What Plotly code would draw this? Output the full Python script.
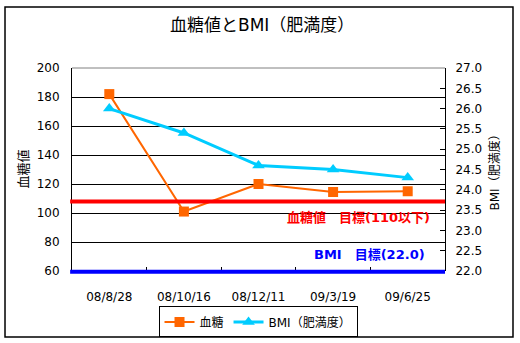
import plotly.graph_objects as go

dates = ["08/8/28", "08/10/16", "08/12/11", "09/3/19", "09/6/25"]
glucose = [182, 101, 120, 114.5, 115]
bmi = [26.0, 25.4, 24.6, 24.5, 24.3]
glucose_target = 108
bmi_target = 22.0
bmi_range = [22, 27]

FONT = "DejaVu Sans, Noto Sans CJK JP"
CJK = "Noto Sans CJK JP"

fig = go.Figure()
fig.add_trace(go.Scatter(
    x=dates, y=glucose, name="血糖", mode="lines+markers",
    line=dict(color="#FF6600", width=2),
    marker=dict(symbol="square", size=10, color="#FF6600"),
    yaxis="y"))
fig.add_trace(go.Scatter(
    x=dates, y=bmi, name="BMI（肥満度）", mode="lines+markers",
    line=dict(color="#00CCFF", width=3),
    marker=dict(symbol="triangle-up", size=11, color="#00CCFF"),
    yaxis="y2"))

fig.update_layout(
    width=520, height=343,
    margin=dict(l=72, r=75, t=68, b=72, autoexpand=False),
    paper_bgcolor="white", plot_bgcolor="white",
    font=dict(family=FONT, size=12, color="black"),
    showlegend=True,
    legend=dict(orientation="h", x=0.4987, y=-0.251, xanchor="center", yanchor="middle",
                bordercolor="black", borderwidth=1, font=dict(size=12, family=FONT),
                tracegroupgap=0, itemwidth=30),
    xaxis=dict(type="category", range=[-0.5, 4.5], showgrid=False, zeroline=False,
               tickson="boundaries", ticks="inside", ticklen=4, tickcolor="black",
               showline=False, tickfont=dict(size=12), ticklabelstandoff=17),
    yaxis=dict(range=[60, 200], dtick=20, showgrid=True, gridcolor="black", gridwidth=1,
               zeroline=False, showline=True, linecolor="black", linewidth=1,
               ticks="", tickfont=dict(size=12), ticklabelstandoff=9),
    yaxis2=dict(range=bmi_range, dtick=0.5, overlaying="y", side="right", tickformat=".1f",
                showgrid=False, zeroline=False, showline=True, linecolor="black", linewidth=1,
                ticks="inside", ticklen=5, tickcolor="black", tickfont=dict(size=12),
                ticklabelstandoff=7),
)

# BMI target expressed in paper units (so the line is not clipped at the axis floor)
bmi_target_paper = (bmi_target - bmi_range[0]) / (bmi_range[1] - bmi_range[0]) - 0.004

shapes = [
    dict(type="rect", xref="paper", yref="paper", x0=-0.1796, x1=1.1823, y0=-0.325, y1=1.3005,
         line=dict(color="black", width=1.5), layer="below"),
    dict(type="line", xref="paper", yref="paper", x0=0, x1=1, y0=1, y1=1,
         line=dict(color="#808080", width=1)),
    dict(type="line", xref="paper", yref="y", x0=-0.005, x1=1, y0=glucose_target, y1=glucose_target,
         line=dict(color="#FF0000", width=4)),
    dict(type="line", xref="paper", yref="paper", x0=-0.005, x1=1,
         y0=bmi_target_paper, y1=bmi_target_paper,
         line=dict(color="#0000FF", width=4)),
]
fig.update_layout(shapes=shapes)

annotations = [
    dict(text="血糖値とBMI（肥満度）", xref="paper", yref="paper", x=0.509, y=1.212,
         showarrow=False, font=dict(size=17, family=FONT, color="black"),
         xanchor="center", yanchor="middle"),
    dict(text="血糖値", xref="paper", yref="paper", x=-0.134, y=0.5, textangle=-90,
         showarrow=False, font=dict(size=13, family=CJK), xanchor="center", yanchor="middle"),
    dict(text="BMI（肥満度）", xref="paper", yref="paper", x=1.134, y=0.5, textangle=-90,
         showarrow=False, font=dict(size=12, family=FONT), xanchor="center", yanchor="middle"),
    dict(text="<b>血糖値　目標(110以下)</b>", xref="paper", yref="paper", x=0.965, y=0.266,
         showarrow=False, font=dict(size=13, family=FONT, color="#FF0000"),
         xanchor="right", yanchor="middle"),
    dict(text=f"<b>BMI　目標({bmi_target:.1f})</b>", xref="paper", yref="paper", x=0.952, y=0.079,
         showarrow=False, font=dict(size=13, family=FONT, color="#0000FF"),
         xanchor="right", yanchor="middle"),
]
fig.update_layout(annotations=annotations)

fig.write_html("out.html")
